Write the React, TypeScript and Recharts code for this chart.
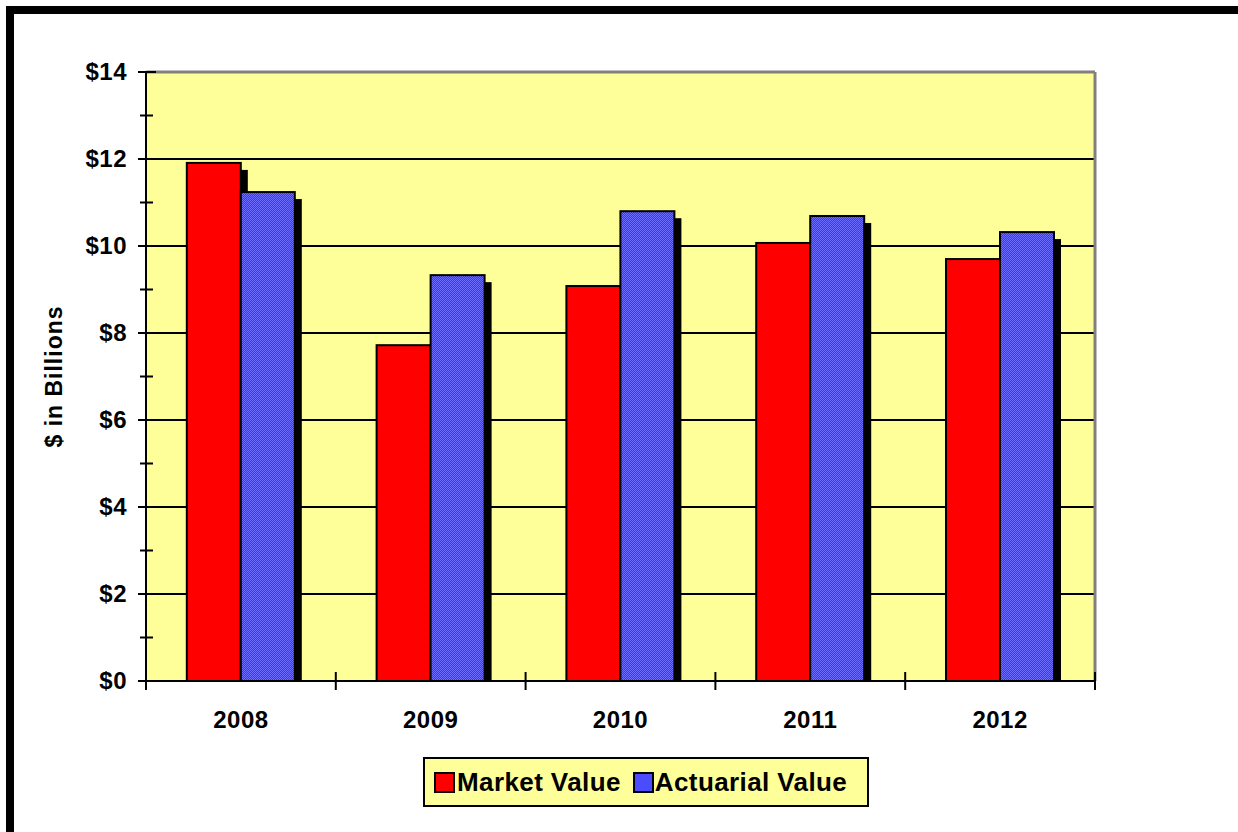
import React from 'react';
import { BarChart, Bar, XAxis, YAxis, CartesianGrid, ReferenceLine, Label } from 'recharts';

const years = ['2008', '2009', '2010', '2011', '2012'];
const marketValue = [11.91, 7.72, 9.08, 10.07, 9.7];
const actuarialValue = [11.24, 9.33, 10.8, 10.69, 10.32];
const yTicks = [0, 1, 2, 3, 4, 5, 6, 7, 8, 9, 10, 11, 12, 13, 14];
const gridTicks = [2, 4, 6, 8, 10, 12];
const Y_MAX = 14;

const data = years.map((year, i) => ({
  year,
  market: marketValue[i],
  actuarial: actuarialValue[i]
}));

const FONT = '"Liberation Sans", Arial, sans-serif';

// bar with the drop shadow Excel draws behind each column
const ShadowBar = (props: any) => {
  const { x, y, width, height, fill } = props;
  if (!height || height <= 0) return null;
  return (
    <g>
      <rect x={x + 7} y={y + 7} width={width} height={height - 7} fill="#000" />
      <rect x={x} y={y} width={width} height={height} fill={fill} stroke="#000" strokeWidth={2} />
    </g>
  );
};

const MoneyTick = (props: any) => {
  const { x, y, payload } = props;
  const major = payload.value % 2 === 0;
  return (
    <g>
      <line x1={major ? x - 8 : x - 6} x2={major ? x + 10 : x + 7} y1={y} y2={y} stroke="#000" strokeWidth={2} />
      {major && (
        <text
          x={x - 19}
          y={y}
          dy={8}
          textAnchor="end"
          fontFamily={FONT}
          fontWeight="bold"
          fontSize={24}
          letterSpacing={0.5}
          fill="#000"
        >
          {`$${payload.value}`}
        </text>
      )}
    </g>
  );
};

const YearTick = (props: any) => {
  const { x, y, payload, index } = props;
  const half = payload.offset || 95;
  return (
    <g>
      <line x1={x - half} x2={x - half} y1={y - 9} y2={y + 9} stroke="#000" strokeWidth={2} />
      {index === years.length - 1 && (
        <line x1={x + half} x2={x + half} y1={y - 9} y2={y + 9} stroke="#000" strokeWidth={2} />
      )}
      <text
        x={x}
        y={y + 47}
        textAnchor="middle"
        fontFamily={FONT}
        fontWeight="bold"
        fontSize={24}
        letterSpacing={0.5}
        fill="#000"
      >
        {payload.value}
      </text>
    </g>
  );
};

const AxisTitle = (props: any) => {
  const { viewBox } = props;
  const cy = viewBox.y + viewBox.height / 2;
  return (
    <text
      x={54}
      y={cy}
      transform={`rotate(-90 54 ${cy})`}
      dy={8}
      textAnchor="middle"
      fontFamily={FONT}
      fontWeight="bold"
      fontSize={23}
      letterSpacing={1}
      fill="#000"
    >
      $ in Billions
    </text>
  );
};

const gridRows = ({ offset }: any) => {
  const top = offset?.top ?? 72;
  const h = offset?.height ?? 609;
  return gridTicks.map((v) => top + h * (1 - v / Y_MAX));
};

const rightEdge = ({ offset }: any) => {
  const left = offset?.left ?? 146;
  const w = offset?.width ?? 949;
  return [left + w];
};

export default function App() {
  return (
    <div style={{ position: 'fixed', left: 0, top: 0, width: 1238, height: 832, background: '#fff', overflow: 'hidden' }}>
      <div
        style={{
          position: 'absolute',
          left: 6,
          top: 6,
          right: 0,
          bottom: 0,
          borderTop: '8px solid #000',
          borderLeft: '8px solid #000'
        }}
      />
      <div style={{ position: 'absolute', left: 0, top: 0 }}>
        <BarChart
          width={1238}
          height={832}
          data={data}
          margin={{ top: 72, right: 143, left: 66, bottom: 91 }}
          barCategoryGap="21.5%"
          barGap={0}
        >
          <defs>
            <pattern id="bluePattern" patternUnits="userSpaceOnUse" width={2} height={2}>
              <rect x={0} y={0} width={2} height={2} fill="#3636ff" />
              <rect x={0} y={0} width={1} height={1} fill="#6c6cff" />
              <rect x={1} y={1} width={1} height={1} fill="#6c6cff" />
            </pattern>
          </defs>
          <CartesianGrid
            vertical={false}
            stroke="#000"
            strokeWidth={2}
            fill="#ffff99"
            fillOpacity={1}
            horizontalCoordinatesGenerator={gridRows}
          />
          <CartesianGrid
            horizontal={false}
            stroke="#808080"
            strokeWidth={3}
            verticalCoordinatesGenerator={rightEdge}
          />
          <XAxis
            dataKey="year"
            height={60}
            tickSize={0}
            tickMargin={0}
            tickLine={false}
            axisLine={{ stroke: '#000', strokeWidth: 2 }}
            tick={<YearTick />}
            interval={0}
          />
          <YAxis
            width={80}
            domain={[0, Y_MAX]}
            ticks={yTicks}
            interval={0}
            tickSize={0}
            tickMargin={0}
            tickLine={false}
            axisLine={{ stroke: '#000', strokeWidth: 2 }}
            tick={<MoneyTick />}
          >
            <Label content={<AxisTitle />} />
          </YAxis>
          <ReferenceLine y={Y_MAX} stroke="#808080" strokeWidth={3} />
          <Bar
            dataKey="market"
            name="Market Value"
            fill="#ff0000"
            shape={<ShadowBar />}
            isAnimationActive={false}
          />
          <Bar
            dataKey="actuarial"
            name="Actuarial Value"
            fill="url(#bluePattern)"
            shape={<ShadowBar />}
            isAnimationActive={false}
          />
        </BarChart>
      </div>
      {/* legend box */}
      <div
        style={{
          position: 'absolute',
          left: 423,
          top: 757,
          width: 446,
          height: 50,
          boxSizing: 'border-box',
          border: '2px solid #000',
          background: '#ffff99',
          display: 'flex',
          alignItems: 'center',
          paddingLeft: 9,
          fontFamily: FONT,
          fontWeight: 'bold',
          fontSize: 26,
          letterSpacing: 0.4,
          color: '#000'
        }}
      >
        <span style={{ width: 17, height: 17, background: '#ff0000', border: '2px solid #000', marginRight: 2 }} />
        <span>Market Value</span>
        <span
          style={{
            width: 17,
            height: 17,
            background: '#4c4cff',
            border: '2px solid #000',
            marginLeft: 12,
            marginRight: 1
          }}
        />
        <span>Actuarial Value</span>
      </div>
    </div>
  );
}
